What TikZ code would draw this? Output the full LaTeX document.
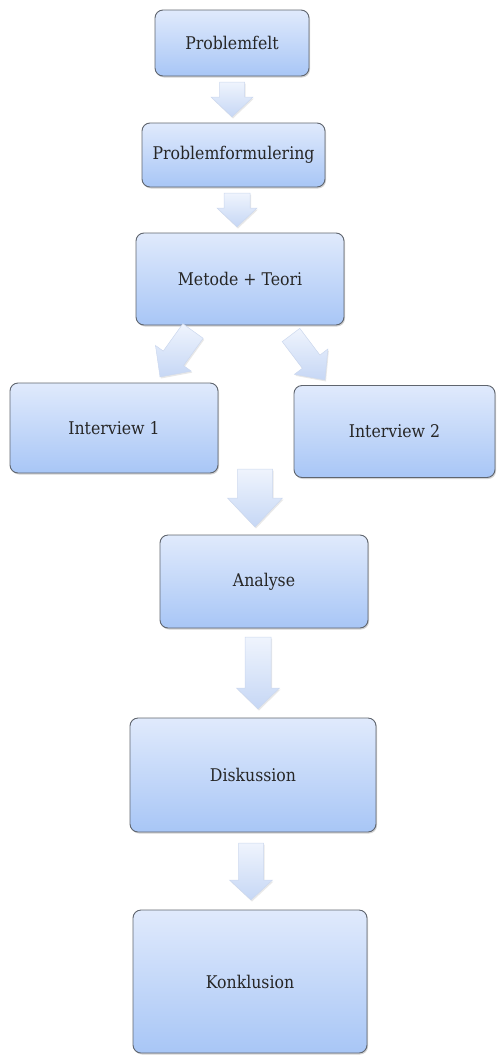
\documentclass[tikz,border=0pt]{standalone}
\usepackage{fontspec}
\setmainfont{DejaVu Serif Condensed}
\usetikzlibrary{calc,shadows}

\definecolor{boxtop}{HTML}{E0EAFC}
\definecolor{boxbot}{HTML}{A8C6F6}
\definecolor{boxline}{HTML}{5F656E}
\definecolor{flowtop}{HTML}{EFF4FD}
\definecolor{flowbot}{HTML}{C6D7F5}
\definecolor{flowline}{HTML}{CCD8EE}

\tikzset{
  box/.style={draw=boxline, line width=0.9pt, rounded corners=8pt,
    top color=boxtop, bottom color=boxbot, text=black!85,
    drop shadow={opacity=0.35, shadow xshift=1pt, shadow yshift=-1.5pt},
    font=\fontsize{17.5}{20}\selectfont, inner sep=0pt},
  flow/.style={draw=flowline, line width=0.5pt, line join=miter,
    top color=flowtop, bottom color=flowbot,
    drop shadow={opacity=0.18, shadow xshift=1pt, shadow yshift=-1.5pt}}
}

% block arrow: tail, tip, half stem, half head, head length
\newcommand{\fatarrow}[5]{%
  \coordinate (fab) at ($(#2)!#5!(#1)$);
  \path[flow] ($(#1)!#3!90:(#2)$) -- ($(fab)!#3!90:(#2)$) -- ($(fab)!#4!90:(#2)$)
    -- (#2) -- ($(fab)!#4!-90:(#2)$) -- ($(fab)!#3!-90:(#2)$) -- ($(#1)!#3!-90:(#2)$) -- cycle;
}

\begin{document}
\begin{tikzpicture}[x=1pt, y=-1pt]
   \useasboundingbox (0,0) rectangle (496,1055);

   \node[box, minimum width=154pt, minimum height=66pt] (felt) at (232,43) {Problemfelt};
   \node[box, minimum width=183pt, minimum height=64pt] (form) at (233.5,155) {Problemformulering};
   \node[box, minimum width=208pt, minimum height=92pt] (metode) at (240,279) {Metode + Teori};
   \node[box, minimum width=208pt, minimum height=90pt] (int1) at (114,428) {Interview 1};
   \node[box, minimum width=201pt, minimum height=92pt] (int2) at (394.5,431.5) {Interview 2};
   \node[box, minimum width=208pt, minimum height=93pt] (analyse) at (264,581.5) {Analyse};
   \node[box, minimum width=246pt, minimum height=114pt] (disk) at (253,775) {Diskussion};
   \node[box, minimum width=234pt, minimum height=143pt] (konk) at (250,981.5) {Konklusion};

   % arrow ends
   \coordinate (a1s) at (232,82);   \coordinate (a1e) at (232,117);
   \coordinate (a2s) at (237,193);  \coordinate (a2e) at (237,227);
   \coordinate (a3s) at (193,331);  \coordinate (a3e) at (160,377);
   \coordinate (a4s) at (291,335);  \coordinate (a4e) at (325,380);
   \coordinate (a5s) at (255,469);  \coordinate (a5e) at (255,527);
   \coordinate (a6s) at (258,637);  \coordinate (a6e) at (258,709);
   \coordinate (a7s) at (251,843);  \coordinate (a7e) at (251,900);

   \fatarrow{a1s}{a1e}{12.5pt}{21pt}{20pt}
   \fatarrow{a2s}{a2e}{13pt}{20pt}{19pt}
   \fatarrow{a3s}{a3e}{12.5pt}{22pt}{23pt}
   \fatarrow{a4s}{a4e}{11pt}{21pt}{23pt}
   \fatarrow{a5s}{a5e}{17.5pt}{27.5pt}{29pt}
   \fatarrow{a6s}{a6e}{13pt}{21.5pt}{21pt}
   \fatarrow{a7s}{a7e}{12.5pt}{21.5pt}{20pt}
\end{tikzpicture}
\end{document}
